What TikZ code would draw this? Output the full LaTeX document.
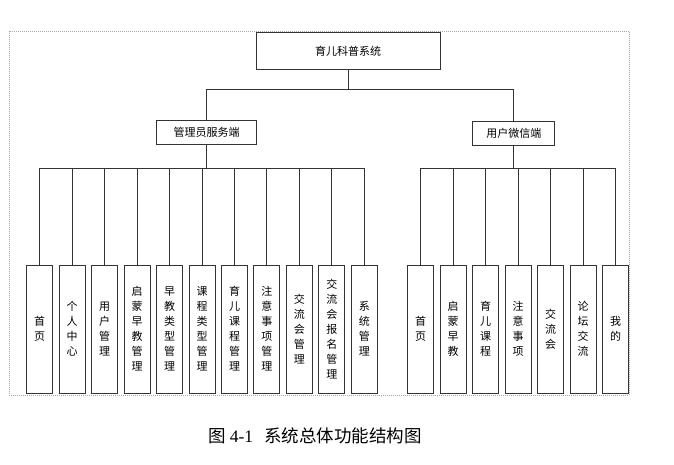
\documentclass[tikz,border=0pt]{standalone}
\usepackage{fontspec}
\setmainfont{Noto Sans CJK SC}
\newfontfamily\latinserif{Liberation Serif}

\begin{document}
\begin{tikzpicture}[x=1pt,y=-1pt]
\tikzstyle{box}=[draw=black!80, line width=1pt, inner sep=0pt, font=\fontsize{11}{13}\selectfont]
\tikzstyle{leaf}=[draw=black!80, line width=1pt, inner sep=0pt, minimum width=26pt, minimum height=128pt, align=center, font=\fontsize{11}{15}\selectfont]
\tikzstyle{link}=[draw=black!80, line width=0.9pt]
\tikzstyle{elbow}=[to path={-| (\tikztotarget)}]

\useasboundingbox (0,0) rectangle (674,464);
\draw[black!35, dash pattern=on 1pt off 1pt] (9,31) rectangle (629,395);

\node[box, minimum width=184pt, minimum height=37pt] (sys) at (348,50.8) {育儿科普系统};
\node[box, minimum width=100pt, minimum height=24pt] (admin) at (206.7,132.7) {管理员服务端};
\node[box, minimum width=82pt, minimum height=24pt] (user) at (513.8,133.3) {用户微信端};

\coordinate (b0) at (348,89);
\coordinate (b1) at (206.7,168.3);
\coordinate (b2) at (513.8,168.3);

% admin side
\node[leaf] (a1) at (39.7,329) {首\\页};
\node[leaf] (a2) at (72.2,329) {个\\人\\中\\心};
\node[leaf] (a3) at (104.6,329) {用\\户\\管\\理};
\node[leaf] (a4) at (137.1,329) {启\\蒙\\早\\教\\管\\理};
\node[leaf] (a5) at (169.5,329) {早\\教\\类\\型\\管\\理};
\node[leaf] (a6) at (202.0,329) {课\\程\\类\\型\\管\\理};
\node[leaf] (a7) at (234.5,329) {育\\儿\\课\\程\\管\\理};
\node[leaf] (a8) at (266.9,329) {注\\意\\事\\项\\管\\理};
\node[leaf] (a9) at (299.4,329) {交\\流\\会\\管\\理};
\node[leaf] (a10) at (331.8,329) {交\\流\\会\\报\\名\\管\\理};
\node[leaf] (a11) at (364.3,329) {系\\统\\管\\理};

% user side
\node[leaf] (u1) at (420.7,329) {首\\页};
\node[leaf] (u2) at (453.2,329) {启\\蒙\\早\\教};
\node[leaf] (u3) at (485.7,329) {育\\儿\\课\\程};
\node[leaf] (u4) at (518.2,329) {注\\意\\事\\项};
\node[leaf] (u5) at (550.7,329) {交\\流\\会};
\node[leaf] (u6) at (583.2,329) {论\\坛\\交\\流};
\node[leaf] (u7) at (615.7,329) {我\\的};

\path[link]
(sys.south) edge (b0)
(b0) edge[elbow] (admin.north)
     edge[elbow] (user.north);

\path[link]
(admin.south) edge (b1)
(b1) edge[elbow] (a1.north)
     edge[elbow] (a2.north)
     edge[elbow] (a3.north)
     edge[elbow] (a4.north)
     edge[elbow] (a5.north)
     edge[elbow] (a6.north)
     edge[elbow] (a7.north)
     edge[elbow] (a8.north)
     edge[elbow] (a9.north)
     edge[elbow] (a10.north)
     edge[elbow] (a11.north);

\path[link]
(user.south) edge (b2)
(b2) edge[elbow] (u1.north)
     edge[elbow] (u2.north)
     edge[elbow] (u3.north)
     edge[elbow] (u4.north)
     edge[elbow] (u5.north)
     edge[elbow] (u6.north)
     edge[elbow] (u7.north);

\node[font=\fontsize{17.5}{20}\selectfont] (cap) at (315,436) {图\hspace{4pt}{\latinserif 4-1}\hspace{11pt}系统总体功能结构图};

\end{tikzpicture}
\end{document}
